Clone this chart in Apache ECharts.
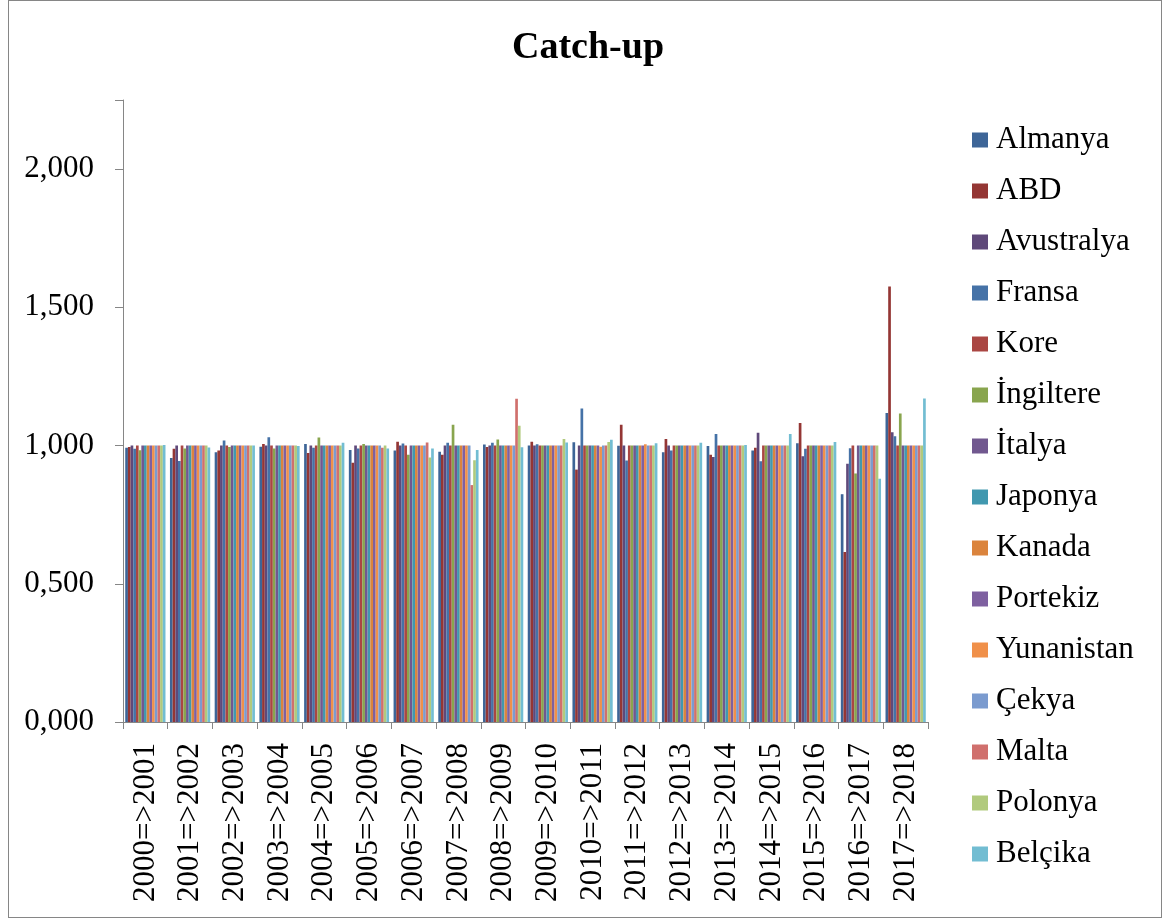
<!DOCTYPE html>
<html>
<head>
<meta charset="utf-8">
<script src="https://cdn.jsdelivr.net/npm/echarts@6/dist/echarts.min.js"></script>
<style>
  html, body { margin: 0; padding: 0; background: #fff; }
  #frame { position: absolute; left: 8px; top: 0px; width: 1152px; height: 916px; border: 1px solid #868686; }
  #chart { position: absolute; left: 0; top: 0; width: 1163px; height: 923px; }
</style>
</head>
<body>
<div id="frame"></div>
<div id="chart"></div>
<script>
// yillar
var categories = ["2000=>2001", "2001=>2002", "2002=>2003", "2003=>2004", "2004=>2005", "2005=>2006",
  "2006=>2007", "2007=>2008", "2008=>2009", "2009=>2010", "2010=>2011", "2011=>2012",
  "2012=>2013", "2013=>2014", "2014=>2015", "2015=>2016", "2016=>2017", "2017=>2018"];

var almanya    = [0.992, 0.955, 0.976, 0.996, 1.006, 0.984, 0.982, 0.978, 1.004, 1.000, 1.012, 0.999, 0.976, 0.998, 0.982, 1.008, 0.824, 1.118];
var abd        = [0.995, 0.988, 0.982, 1.006, 0.973, 0.938, 1.014, 0.967, 0.995, 1.014, 0.913, 1.075, 1.024, 0.967, 0.992, 1.082, 0.615, 1.575];
var avustralya = [1.000, 1.000, 1.000, 1.000, 1.000, 1.000, 1.000, 1.000, 1.000, 1.000, 1.000, 1.000, 1.000, 0.959, 1.046, 0.961, 0.934, 1.048];
var fransa     = [0.988, 0.944, 1.018, 1.030, 0.992, 0.989, 1.007, 1.010, 1.010, 1.005, 1.134, 0.946, 0.982, 1.042, 0.943, 0.988, 0.990, 1.034];
var kore       = [1.000, 1.000, 1.000, 1.000, 1.000, 1.000, 1.000, 1.000, 1.000, 1.000, 1.000, 1.000, 1.000, 1.000, 1.000, 1.000, 1.000, 1.000];
var ingiltere  = [0.983, 0.989, 0.995, 0.989, 1.029, 1.006, 0.967, 1.075, 1.022, 1.000, 1.000, 1.000, 1.000, 1.000, 1.000, 1.000, 0.899, 1.116];
var italya     = [1.000, 1.000, 1.000, 1.000, 1.000, 1.000, 1.000, 1.000, 1.000, 1.000, 1.000, 1.000, 1.000, 1.000, 1.000, 1.000, 1.000, 1.000];
var japonya    = [1.000, 1.000, 1.000, 1.000, 1.000, 1.000, 1.000, 1.000, 1.000, 1.000, 1.000, 1.000, 1.000, 1.000, 1.000, 1.000, 1.000, 1.000];
var kanada     = [1.000, 1.000, 1.000, 1.000, 1.000, 1.000, 1.000, 1.000, 1.000, 1.000, 1.000, 1.000, 1.000, 1.000, 1.000, 1.000, 1.000, 1.000];
var portekiz   = [1.000, 1.000, 1.000, 1.000, 1.000, 1.000, 1.000, 1.000, 1.000, 1.000, 1.000, 1.000, 1.000, 1.000, 1.000, 1.000, 1.000, 1.000];
var yunanistan = [1.000, 1.000, 1.000, 1.000, 1.000, 1.000, 1.000, 1.000, 1.000, 1.000, 0.996, 1.005, 1.000, 1.000, 1.000, 1.000, 1.000, 1.000];
var cekya      = [1.000, 1.000, 1.000, 1.000, 1.000, 1.000, 1.000, 1.000, 1.000, 1.000, 1.000, 1.000, 1.000, 1.000, 1.000, 1.000, 1.000, 1.000];
var malta      = [1.000, 1.000, 1.000, 1.000, 1.000, 0.992, 1.011, 0.857, 1.169, 1.000, 1.000, 1.000, 1.000, 1.000, 1.000, 1.000, 1.000, 1.000];
var polonya    = [1.000, 1.000, 1.000, 1.000, 1.000, 1.000, 0.957, 0.947, 1.072, 1.024, 1.013, 1.000, 1.000, 1.000, 1.000, 1.000, 1.000, 1.000];
var belcika    = [1.002, 0.993, 1.000, 0.998, 1.010, 0.989, 0.989, 0.984, 0.994, 1.011, 1.021, 1.008, 1.010, 1.002, 1.042, 1.013, 0.880, 1.170];

var names = ["Almanya", "ABD", "Avustralya", "Fransa", "Kore", "İngiltere", "İtalya", "Japonya",
  "Kanada", "Portekiz", "Yunanistan", "Çekya", "Malta", "Polonya", "Belçika"];
var values = [almanya, abd, avustralya, fransa, kore, ingiltere, italya, japonya,
  kanada, portekiz, yunanistan, cekya, malta, polonya, belcika];
var colors = ["#3d6597", "#943634", "#5f497a", "#4572a7", "#aa4643", "#89a54e", "#71588f", "#4198af",
  "#db843d", "#7e60a0", "#f0904a", "#7b9bcf", "#d0706d", "#b1ca7d", "#72bdd2"];

var yTicks = [0, 0.5, 1, 1.5, 2];

var font = "'Liberation Serif', 'Times New Roman', serif";

var series = [];
for (var i = 0; i < names.length; i++) {
  series.push({
    name: names[i],
    type: "bar",
    barGap: "0%",
    barCategoryGap: "10%",
    data: values[i]
  });
}

var myChart = echarts.init(document.getElementById("chart"));
var option = {
  color: colors,
  animation: false,
  title: {
    text: "Catch-up",
    left: 583,
    textAlign: "center",
    top: 24,
    textStyle: { fontFamily: font, fontSize: 38, fontWeight: "bold", color: "#000" }
  },
  legend: {
    orient: "vertical",
    left: 967,
    top: 119,
    itemWidth: 16,
    itemHeight: 15,
    itemGap: 19,
    icon: "rect",
    data: names,
    textStyle: { fontFamily: font, fontSize: 31, lineHeight: 32, color: "#000", padding: [0, 0, 0, 3] }
  },
  grid: {
    left: 123,
    right: 235,
    top: 100,
    bottom: 201
  },
  xAxis: {
    type: "category",
    data: categories,
    axisLine: { lineStyle: { color: "#868686", width: 1 } },
    axisTick: { show: true, interval: 0, length: 7, lineStyle: { color: "#868686" } },
    axisLabel: {
      interval: 0,
      rotate: 90,
      margin: 21,
      fontFamily: font,
      fontSize: 31,
      color: "#000"
    }
  },
  yAxis: {
    type: "value",
    min: 0,
    max: 2.25,
    interval: 0.5,
    splitLine: { show: false },
    axisLine: { show: true, lineStyle: { color: "#868686", width: 1 } },
    axisTick: { show: true, length: 8, lineStyle: { color: "#868686" } },
    axisLabel: {
      margin: 29,
      fontFamily: font,
      fontSize: 31,
      color: "#000",
      formatter: function (v) {
        if (yTicks.indexOf(v) < 0) return "";
        return v.toFixed(3).replace(".", ",");
      }
    }
  },
  series: series
};
myChart.setOption(option);
</script>
</body>
</html>
